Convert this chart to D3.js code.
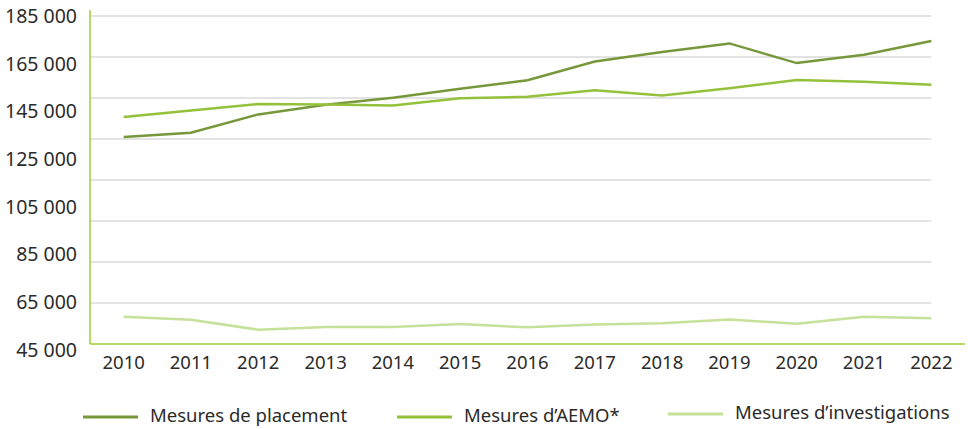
<!DOCTYPE html>
<html>
<head>
<meta charset="utf-8">
<script src="https://cdn.jsdelivr.net/npm/d3@7"></script>
<style>
  body { margin: 0; background: #fff; }
  svg text { font-family: "Noto Sans", sans-serif; fill: #2b2b2b; }
</style>
</head>
<body>
<div id="chart"></div>
<script>
// Données
const years = ["2010", "2011", "2012", "2013", "2014", "2015", "2016", "2017", "2018", "2019", "2020", "2021", "2022"];
const placement = [133400, 135200, 143000, 147100, 150100, 153900, 157600, 165600, 169600, 173300, 164900, 168500, 174300];
const aemo = [141900, 144700, 147400, 147200, 146800, 149900, 150500, 153300, 151100, 154200, 157700, 156900, 155700];
const investigations = [56600, 55300, 51100, 52300, 52300, 53500, 52100, 53300, 53900, 55500, 53600, 56600, 56000];
const yTickLabels = [45000, 65000, 85000, 105000, 125000, 145000, 165000, 185000];
const yGridValues = d3.range(45000, 185001, 17500);

const seriesNames = ["Mesures de placement", "Mesures d\u2019AEMO*", "Mesures d\u2019investigations"];
const seriesColors = ["#77983a", "#94c13b", "#c6e29a"];

const width = 968, height = 429;
const plotLeft = 90, plotRight = 965, plotTop = 16, plotBottom = 344;

const svg = d3.select("#chart").append("svg")
  .attr("width", width)
  .attr("height", height);

const x = d3.scalePoint().domain(years).range([plotLeft, plotRight]).padding(0.5);
const y = d3.scaleLinear().domain([45000, 185000]).range([plotBottom, plotTop]);
// les libellés de l'axe ne tombent pas exactement sur les lignes de grille
const yLabel = d3.scaleLinear().domain([45000, 185000]).range([350, 16]);

const fmt = v => d3.format(",")(v).replace(",", " ");

// grille
svg.append("g")
  .selectAll("line")
  .data(yGridValues.filter(v => v > 45000))
  .join("line")
  .attr("x1", plotLeft)
  .attr("x2", x("2022"))
  .attr("y1", d => y(d))
  .attr("y2", d => y(d))
  .attr("stroke", "#dadada")
  .attr("stroke-width", 1.5);

// libellés Y
svg.append("g")
  .selectAll("text")
  .data(yTickLabels)
  .join("text")
  .attr("x", 77)
  .attr("y", d => yLabel(d))
  .attr("dy", "0.35em")
  .attr("text-anchor", "end")
  .style("font-size", "19.5px")
  .text(d => fmt(d));

// axes
svg.append("line")
  .attr("x1", plotLeft).attr("x2", plotLeft)
  .attr("y1", 10).attr("y2", plotBottom)
  .attr("stroke", "#9ccc2e").attr("stroke-width", 1.5);
svg.append("line")
  .attr("x1", plotLeft).attr("x2", plotRight)
  .attr("y1", plotBottom).attr("y2", plotBottom)
  .attr("stroke", "#9ccc2e").attr("stroke-width", 1.5);

// libellés X
svg.append("g")
  .selectAll("text")
  .data(years)
  .join("text")
  .attr("x", d => x(d))
  .attr("y", 363)
  .attr("dy", "0.35em")
  .attr("text-anchor", "middle")
  .style("font-size", "18.5px")
  .text(d => d);

// lignes
const line = d3.line()
  .x((d, i) => x(years[i]))
  .y(d => y(d));

const allSeries = [placement, aemo, investigations];
svg.append("g")
  .selectAll("path")
  .data(allSeries)
  .join("path")
  .attr("d", d => line(d))
  .attr("fill", "none")
  .attr("stroke", (d, i) => seriesColors[i])
  .attr("stroke-width", 2.5);

// légende
const legendItems = [
  { x: 83, ty: 416 },
  { x: 397, ty: 416 },
  { x: 668, ty: 413 }
];
const lg = svg.append("g")
  .selectAll("g")
  .data(legendItems)
  .join("g");
lg.append("line")
  .attr("x1", d => d.x).attr("x2", d => d.x + 55)
  .attr("y1", d => d.ty + 1).attr("y2", d => d.ty + 1)
  .attr("stroke", (d, i) => seriesColors[i])
  .attr("stroke-width", 3);
lg.append("text")
  .attr("x", d => d.x + 67)
  .attr("y", d => d.ty)
  .attr("dy", "0.35em")
  .style("font-size", "18.5px")
  .text((d, i) => seriesNames[i]);
</script>
</body>
</html>
